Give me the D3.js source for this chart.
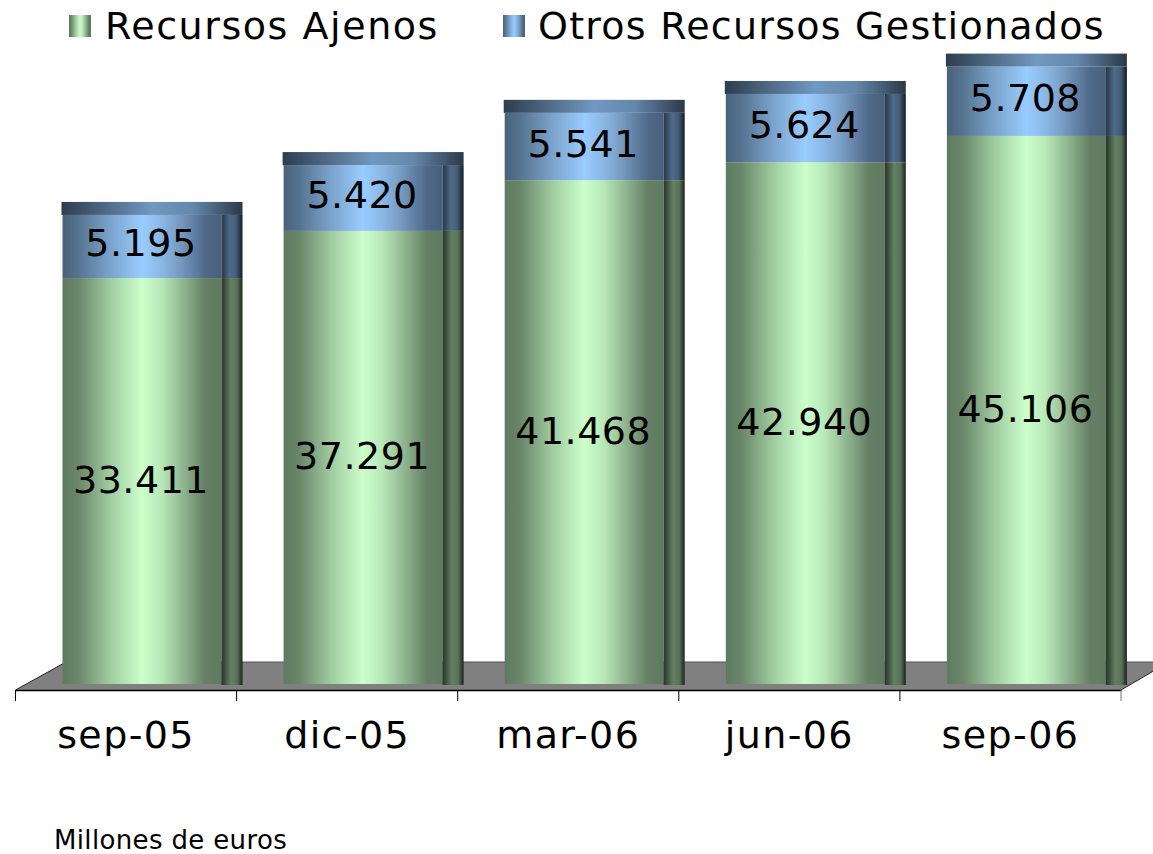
<!DOCTYPE html>
<html>
<head>
<meta charset="utf-8">
<script src="https://cdn.jsdelivr.net/npm/d3@7"></script>
<style>
    html, body { margin: 0; padding: 0; background: #fff; }
    svg { display: block; }
    text { font-family: "DejaVu Sans", Verdana, sans-serif; fill: #000; }
</style>
</head>
<body>
<svg id="chart" width="1153" height="854"></svg>
<script>
const categories = ["sep-05", "dic-05", "mar-06", "jun-06", "sep-06"];
const recursosAjenos = [33411, 37291, 41468, 42940, 45106];
const otrosRecursos = [5195, 5420, 5541, 5624, 5708];
const seriesNames = ["Recursos Ajenos", "Otros Recursos Gestionados"];

const svg = d3.select("#chart");
const defs = svg.append("defs");

const baseY = 684, axisY = 690, floorTop = 662;
const barInset = 47, frontW = 159, sideW = 21, capH = 13;

const x = d3.scaleBand().domain(categories).range([15.5, 1121]);
const y = d3.scaleLinear().domain([0, 50000]).range([baseY, baseY - 607.5]);
const label = v => d3.format(",")(v).replace(/,/g, ".");

function gradient(id, stops) {
    defs.append("linearGradient").attr("id", id)
        .selectAll("stop").data(stops).join("stop")
        .attr("offset", d => d[0])
        .attr("stop-color", d => d[1]);
}

gradient("greenFront", [[0, "#5f7a60"], [0.1, "#6a876a"], [0.3, "#a0cca0"], [0.5, "#ccffcc"], [0.62, "#b8e8b8"], [0.72, "#9cc49c"], [0.9, "#647f64"], [1, "#5f7a60"]]);
gradient("blueFront", [[0, "#4a627c"], [0.1, "#557490"], [0.3, "#7ba3cc"], [0.5, "#99ccff"], [0.62, "#8ab8e6"], [0.72, "#7a9fc6"], [0.9, "#50698a"], [1, "#48607a"]]);
gradient("greenSide", [[0, "#273527"], [0.45, "#648064"], [0.75, "#587058"], [1, "#1a241a"]]);
gradient("blueSide", [[0, "#273646"], [0.4, "#4e6b88"], [0.7, "#445d77"], [1, "#121c26"]]);
gradient("blueCap", [[0, "#2e3d4d"], [0.5, "#7198c0"], [0.72, "#6488ac"], [1, "#2b3947"]]);

// floor
const xEnd = x.range()[1], xStart = x.range()[0];
svg.append("path")
    .attr("d", d3.line()([[xStart, axisY], [66, floorTop], [1169, floorTop], [xEnd, axisY]]) + "Z")
    .attr("fill", "#808080");
svg.append("path")
    .attr("d", d3.line()([[xStart, axisY], [66, floorTop]]))
    .attr("fill", "none").attr("stroke", "#222").attr("stroke-width", 1);
svg.append("path")
    .attr("d", d3.line()([[xEnd, axisY], [1169, floorTop]]))
    .attr("fill", "none").attr("stroke", "#222").attr("stroke-width", 1);
svg.append("line")
    .attr("x1", 66).attr("x2", 1153).attr("y1", floorTop).attr("y2", floorTop)
    .attr("stroke", "#555");

// axis, labels come from d3, the ticks sit between the bands
const axis = svg.append("g")
    .attr("transform", `translate(0,${axisY})`)
    .call(d3.axisBottom(x).tickSize(0).tickPadding(31));
axis.select(".domain").attr("stroke", "#000").attr("stroke-width", 1.5);
axis.selectAll("text").style("font-size", "38px").style("letter-spacing", "1.4px").attr("fill", "#000")
    .style("font-family", '"DejaVu Sans", Verdana, sans-serif');
const edges = categories.map(c => x(c)).concat([xEnd]);
axis.selectAll("line.edge").data(edges).join("line")
    .attr("class", "edge")
    .attr("x1", d => d).attr("x2", d => d)
    .attr("y1", 0).attr("y2", 11)
    .attr("stroke", (d, i) => i === edges.length - 1 ? "#777" : "#000");

// bars
const bars = svg.append("g").selectAll("g")
    .data(categories)
    .join("g")
    .attr("transform", d => `translate(${x(d) + barInset},0)`);

const top1 = i => y(recursosAjenos[i]);
const top2 = i => y(recursosAjenos[i] + otrosRecursos[i]);

bars.append("rect").attr("x", 0).attr("width", frontW)
    .attr("y", (d, i) => top1(i)).attr("height", (d, i) => baseY - top1(i))
    .attr("fill", "url(#greenFront)");
bars.append("rect").attr("x", frontW).attr("width", sideW)
    .attr("y", (d, i) => top1(i)).attr("height", (d, i) => baseY + 1 - top1(i))
    .attr("fill", "url(#greenSide)");
bars.append("rect").attr("x", 0).attr("width", frontW)
    .attr("y", (d, i) => top2(i)).attr("height", (d, i) => top1(i) - top2(i))
    .attr("fill", "url(#blueFront)");
bars.append("rect").attr("x", frontW).attr("width", sideW)
    .attr("y", (d, i) => top2(i)).attr("height", (d, i) => top1(i) - top2(i))
    .attr("fill", "url(#blueSide)");
bars.append("rect").attr("x", -1).attr("width", frontW + sideW + 1)
    .attr("y", (d, i) => top2(i) - capH).attr("height", capH)
    .attr("fill", "url(#blueCap)");

bars.append("text")
    .attr("x", frontW / 2 - 1)
    .attr("y", (d, i) => (top1(i) + baseY) / 2 + 12)
    .attr("text-anchor", "middle").style("font-size", "38px").style("letter-spacing", "0.5px")
    .text((d, i) => label(recursosAjenos[i]));
bars.append("text")
    .attr("x", frontW / 2 - 1)
    .attr("y", (d, i) => (top2(i) + top1(i)) / 2 + 10)
    .attr("text-anchor", "middle").style("font-size", "38px").style("letter-spacing", "0.5px")
    .text((d, i) => label(otrosRecursos[i]));

// legend
const legendX = [69, 503];
const legend = svg.append("g").selectAll("g")
    .data(seriesNames)
    .join("g")
    .attr("transform", (d, i) => `translate(${legendX[i]},15)`);
legend.append("rect").attr("width", 22).attr("height", 22)
    .attr("fill", (d, i) => i === 0 ? "url(#greenFront)" : "url(#blueFront)");
legend.append("text").attr("x", (d, i) => i === 0 ? 36 : 35).attr("y", 24)
    .style("font-size", "38px").style("letter-spacing", (d, i) => i === 0 ? "1.55px" : "1.25px")
    .text(d => d);

svg.append("text").attr("x", 54).attr("y", 849)
    .style("font-size", "26px").style("letter-spacing", "0.35px")
    .text("Millones de euros");
</script>
</body>
</html>
